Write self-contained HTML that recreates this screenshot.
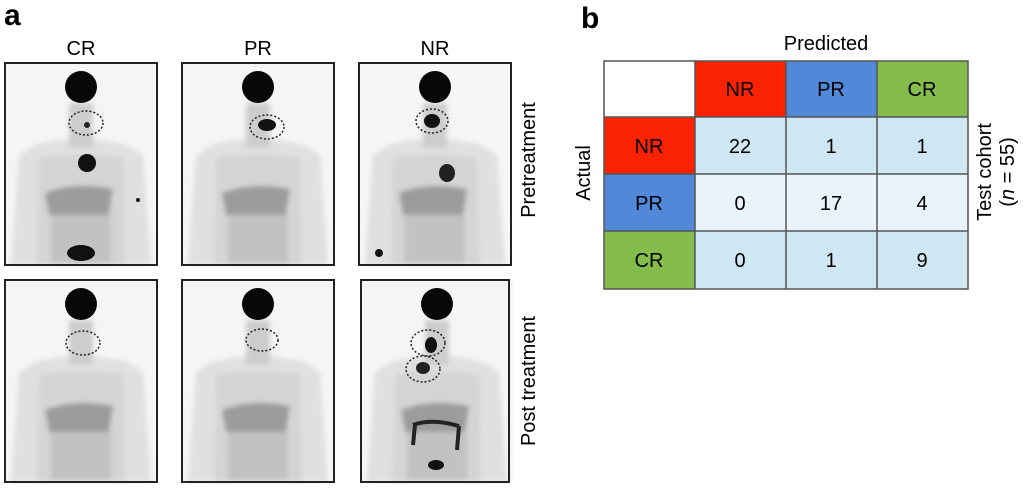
<!DOCTYPE html>
<html><head><meta charset="utf-8"><style>
body{margin:0;background:#fff;width:1023px;height:487px;overflow:hidden;font-family:"Liberation Sans",Arial,sans-serif;}
</style></head><body>
<svg width="1023" height="487" viewBox="0 0 1023 487" xmlns="http://www.w3.org/2000/svg" font-family="Liberation Sans, Arial, sans-serif">
<defs>
<filter id="bl"><feGaussianBlur stdDeviation="2.5"/></filter>
<g id="body">
  <rect x="0" y="0" width="152" height="202" fill="#f5f5f5"/>
  <g filter="url(#bl)">
  <path d="M30 82 Q76 70 122 82 L138 92 L146 202 L6 202 L14 92 Z" fill="#e0e0e0"/>
  <path d="M34 95 Q76 88 118 95 L120 202 L32 202 Z" fill="#d4d4d4"/>
  <rect x="64" y="40" width="24" height="45" fill="#cdcdcd"/>
  <path d="M40 130 Q70 118 108 126 L104 152 Q70 156 44 152Z" fill="#9c9c9c"/>
  <rect x="46" y="152" width="60" height="48" fill="#c2c2c2"/>
  </g>
  <ellipse cx="76" cy="24" rx="16" ry="16" fill="#080808"/>
</g>
</defs>

<text x="4" y="25" font-size="30" font-weight="bold">a</text>
<text x="581" y="28" font-size="30" font-weight="bold">b</text>
<text x="81" y="55" font-size="20" text-anchor="middle">CR</text>
<text x="258" y="55" font-size="20" text-anchor="middle">PR</text>
<text x="435" y="55" font-size="20" text-anchor="middle">NR</text>

<g transform="translate(5,63)"><use href="#body"/><ellipse cx="82" cy="100" rx="9" ry="9" fill="#111"/><ellipse cx="76" cy="190" rx="14" ry="8" fill="#111"/><ellipse cx="81" cy="60" rx="17" ry="12" fill="none" stroke="#222" stroke-dasharray="2,2" stroke-width="1.5"/><circle cx="82" cy="62" r="3" fill="#222"/><circle cx="133" cy="137" r="2" fill="#111"/></g>
<g transform="translate(182,63)"><use href="#body"/><ellipse cx="85" cy="62" rx="9" ry="6" fill="#111"/><ellipse cx="85" cy="64" rx="17" ry="12" fill="none" stroke="#222" stroke-dasharray="2,2" stroke-width="1.5"/></g>
<g transform="translate(359,63)"><use href="#body"/><ellipse cx="73" cy="58" rx="8" ry="7" fill="#111"/><ellipse cx="73" cy="58" rx="16" ry="12" fill="none" stroke="#222" stroke-dasharray="2,2" stroke-width="1.5"/><ellipse cx="88" cy="110" rx="8" ry="9" fill="#222"/><circle cx="20" cy="190" r="4" fill="#111"/></g>
<rect x="5" y="63" width="152" height="202" fill="none" stroke="#222" stroke-width="2"/>
<rect x="182" y="63" width="152" height="202" fill="none" stroke="#222" stroke-width="2"/>
<rect x="359" y="63" width="152" height="202" fill="none" stroke="#222" stroke-width="2"/>

<g transform="translate(5,280)"><use href="#body"/><ellipse cx="78" cy="63" rx="17" ry="12" fill="none" stroke="#222" stroke-dasharray="2,2" stroke-width="1.5"/></g>
<g transform="translate(182,280)"><use href="#body"/><ellipse cx="80" cy="60" rx="16" ry="11" fill="none" stroke="#222" stroke-dasharray="2,2" stroke-width="1.5"/></g>
<g transform="translate(361,280)"><use href="#body"/><ellipse cx="70" cy="65" rx="6" ry="8" fill="#111"/><ellipse cx="67" cy="63" rx="17" ry="13" fill="none" stroke="#222" stroke-dasharray="2,2" stroke-width="1.5"/><ellipse cx="62" cy="88" rx="7" ry="6" fill="#222"/><ellipse cx="62" cy="89" rx="17" ry="13" fill="none" stroke="#222" stroke-dasharray="2,2" stroke-width="1.5"/><path d="M52 145 Q70 138 98 146 M54 145 L52 165 M98 146 L96 170" stroke="#222" stroke-width="4" fill="none"/><ellipse cx="75" cy="185" rx="8" ry="5" fill="#111"/></g>
<rect x="5" y="280" width="152" height="202" fill="none" stroke="#222" stroke-width="2"/>
<rect x="182" y="280" width="152" height="202" fill="none" stroke="#222" stroke-width="2"/>
<rect x="361" y="280" width="148" height="202" fill="none" stroke="#222" stroke-width="2"/>

<text transform="translate(535,160) rotate(-90)" font-size="20" text-anchor="middle">Pretreatment</text>
<text transform="translate(535,381) rotate(-90)" font-size="20" text-anchor="middle">Post treatment</text>

<text x="826" y="50" font-size="20" text-anchor="middle">Predicted</text>
<rect x="604" y="61" width="91" height="56" fill="#fff"/>
<rect x="695" y="61" width="91" height="56" fill="#fa2200"/>
<rect x="786" y="61" width="91" height="56" fill="#5189d8"/>
<rect x="877" y="61" width="91" height="56" fill="#84bd4b"/>
<rect x="604" y="117" width="91" height="57" fill="#fa2200"/>
<rect x="604" y="174" width="91" height="57" fill="#5189d8"/>
<rect x="604" y="231" width="91" height="58" fill="#84bd4b"/>
<rect x="695" y="117" width="273" height="57" fill="#cfe6f3"/>
<rect x="695" y="174" width="273" height="57" fill="#e8f3fc"/>
<rect x="695" y="231" width="273" height="58" fill="#cfe6f3"/>
<g stroke="#555" stroke-width="1.5" fill="none">
<rect x="604" y="61" width="364" height="228"/>
<path d="M695 61V289M786 61V289M877 61V289M604 117H968M604 174H968M604 231H968"/>
</g>
<g font-size="20" text-anchor="middle">
<text x="740" y="96">NR</text><text x="831" y="96">PR</text><text x="922" y="96">CR</text>
<text x="649" y="153">NR</text><text x="649" y="210">PR</text><text x="649" y="267">CR</text>
<text x="740" y="153">22</text><text x="831" y="153">1</text><text x="922" y="153">1</text>
<text x="740" y="210">0</text><text x="831" y="210">17</text><text x="922" y="210">4</text>
<text x="740" y="267">0</text><text x="831" y="267">1</text><text x="922" y="267">9</text>
</g>
<text transform="translate(590,173) rotate(-90)" font-size="20" text-anchor="middle">Actual</text>
<text transform="translate(991,172) rotate(-90)" font-size="20" text-anchor="middle">Test cohort</text>
<text transform="translate(1014,172) rotate(-90)" font-size="20" text-anchor="middle">(<tspan font-style="italic">n</tspan> = 55)</text>
</svg>
</body></html>
